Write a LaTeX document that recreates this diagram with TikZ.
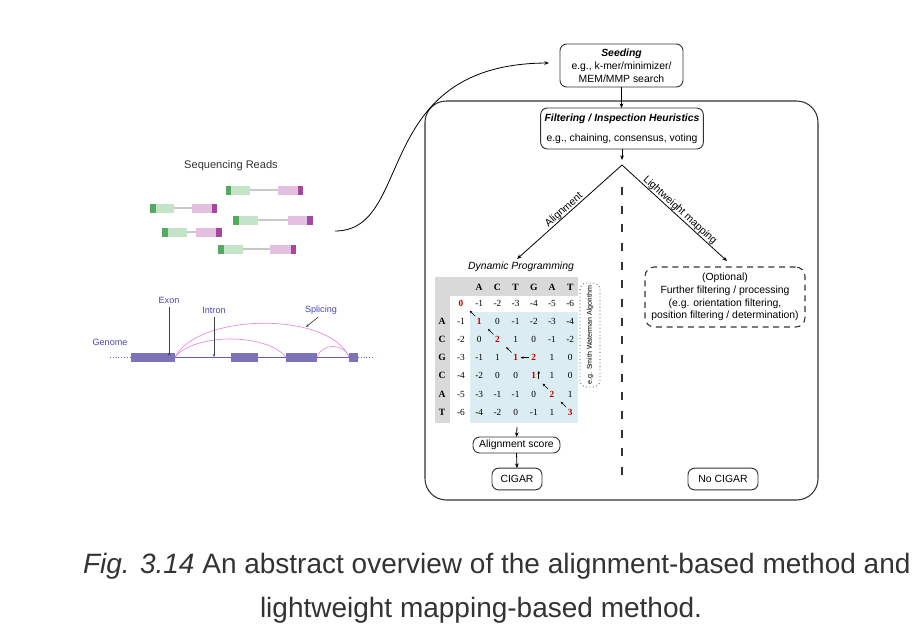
\documentclass[tikz,border=0pt]{standalone}
\usepackage{fontspec}
\setmainfont{Liberation Sans}
\newfontfamily\serifm{Liberation Serif}
\usetikzlibrary{arrows.meta,calc}
\definecolor{boxc}{HTML}{333333}
\definecolor{capc}{HTML}{333333}
\definecolor{dgreen}{HTML}{55A860}
\definecolor{lgreen}{HTML}{C4E3C8}
\definecolor{lpink}{HTML}{E3C0E0}
\definecolor{dmag}{HTML}{A5479F}
\definecolor{rgray}{HTML}{C8C8C8}
\definecolor{exonc}{HTML}{7D73B9}
\definecolor{genc}{HTML}{5B5BD6}
\definecolor{gentxt}{HTML}{4646B4}
\definecolor{arcc}{HTML}{E28AE0}
\definecolor{hdrgray}{HTML}{D9D9D9}
\definecolor{cellblue}{HTML}{DBEDF2}
\definecolor{redv}{HTML}{C00000}
\newcommand\redval[1]{\textcolor{redv}{\bfseries #1}}
\newcommand\drawread[7]{%
  \draw[rgray, line width=1pt] (#4,#1) -- (#5,#1);
  \fill[dgreen] (#2,#1-4.5) rectangle (#3,#1+4.5);
  \fill[lgreen] (#3,#1-4.5) rectangle (#4,#1+4.5);
  \fill[lpink] (#5,#1-4.5) rectangle (#6,#1+4.5);
  \fill[dmag] (#6,#1-4.5) rectangle (#7,#1+4.5);}
\begin{document}
\begin{tikzpicture}[x=0.75pt,y=-0.75pt,
  every node/.style={inner sep=0pt, outer sep=0pt},
  lbl/.style={font=\fontsize{7.8pt}{9.5pt}\selectfont, align=center},
  rbox/.style={draw=boxc, line width=0.7pt, rounded corners=5pt, fill=white, align=center, font=\fontsize{7.8pt}{9.75pt}\selectfont},
  arr/.style={-{Stealth[length=3.5pt,width=2.8pt]}, line width=0.6pt},
  tinyarr/.style={-{Stealth[length=2.2pt,width=1.8pt]}, line width=0.5pt},
  ptr/.style={-{Stealth[length=2.2pt,width=1.8pt]}, line width=0.5pt, draw=black!75},
  num/.style={font=\serifm\fontsize{7pt}{8pt}\selectfont},
  hdr/.style={font=\serifm\bfseries\fontsize{7.2pt}{8pt}\selectfont},
  gtxt/.style={font=\fontsize{6.8pt}{8pt}\selectfont, text=gentxt},
  gdots/.style={genc, line width=0.9pt, dash pattern=on 0.8pt off 1.3pt}
]
\useasboundingbox (0,0) rectangle (920,632);

% ---------- big container ----------
\draw[draw=boxc, line width=0.8pt, rounded corners=16pt] (425,101) rectangle (818,500);

% ---------- top boxes ----------
\node[rbox, minimum width=92.25pt, minimum height=32.25pt] (seed) at (621.5,65.5)
  {\textbf{\textit{Seeding}}\\e.g., k-mer/minimizer/\\MEM/MMP search};
\node[rbox, minimum width=122pt, minimum height=30.75pt, font=\fontsize{7.8pt}{15pt}\selectfont] (filt) at (622,128.5)
  {\textbf{\textit{Filtering / Inspection Heuristics}}\\e.g., chaining, consensus, voting};
\draw[arr] (seed.south) -- (seed.south |- filt.north);

\coordinate (apexin) at (622,160);
\coordinate (apex) at (622,165);
\draw[arr] (filt.south) -- (apexin);

\coordinate (dptop) at (517,259);
\coordinate (opttop) at (727,261);
\draw[arr] (apex) -- (dptop);
\draw[arr] (apex) -- (opttop);
\node[lbl, rotate=41.8] (alnlbl) at (564,210) {Alignment};
\node[lbl, rotate=-42.4] (lwlbl) at (680,210.5) {Lightweight\ mapping};

% dashed separator
\coordinate (sepA) at (622,187);
\coordinate (sepB) at (622,482);
\draw[boxc, line width=1.1pt, dash pattern=on 6pt off 8pt] (sepA) -- (sepB);

% ---------- DP matrix ----------
\node[lbl, font=\itshape\fontsize{7.8pt}{9.5pt}\selectfont] (dp) at (521,267) {Dynamic Programming};
\fill[hdrgray] (435,277) rectangle (578,296);
\fill[hdrgray] (435,277) rectangle (450,423);
\fill[cellblue] (470,312) rectangle (578,423);

\foreach \L [count=\c] in {A,C,T,G,A,T}
  \node[hdr] (h-\c) at ({461+18.2*\c},287) {\L};
\foreach \L [count=\r] in {A,C,G,C,A,T}
  \node[hdr] (rl-\r) at (442,{303+18.2*\r}) {\L};

\foreach \r/\vals in {%
  0/{\redval{0},-1,-2,-3,-4,-5,-6},
  1/{-1,\redval{1},0,-1,-2,-3,-4},
  2/{-2,0,\redval{2},1,0,-1,-2},
  3/{-3,-1,1,\redval{1},\redval{2},1,0},
  4/{-4,-2,0,0,\redval{1},1,0},
  5/{-5,-3,-1,-1,0,\redval{2},1},
  6/{-6,-4,-2,0,-1,1,\redval{3}}}{
  \foreach \v [count=\cc from 0] in \vals
    \node[num] (m-\r-\cc) at ({461+18.2*\cc},{303+18.2*\r}) {\v};
}

% traceback arrows
\foreach \i in {1,2,3,5,6}
  \draw[tinyarr] ($(m-\i-\i)+(-4,-5)$) -- ($(m-\i-\i)+(-9.5,-10.5)$);
\draw[tinyarr] ($(m-3-4)+(-5,0)$) -- ($(m-3-3)+(5,0)$);
\draw[tinyarr] ($(m-4-4)+(5,3)$) -- ($(m-4-4)+(5,-5)$);

% Smith Waterman label
\node[draw=boxc, line width=0.6pt, dotted, rounded corners=5pt, minimum width=78pt, minimum height=15pt,
      rotate=90, font=\fontsize{5.3pt}{6pt}\selectfont] (sw) at (590,335) {e.g. Smith Waterman Algorithm};

% ---------- lower boxes ----------
\coordinate (mbot) at (517,427);
\node[rbox, minimum width=65.25pt, minimum height=12pt] (score) at (516.5,445) {Alignment score};
\node[rbox, minimum width=37.5pt, minimum height=16.3pt] (cigar) at (517,479) {CIGAR};
\node[rbox, minimum width=52.5pt, minimum height=16.3pt] (nocigar) at (723,479) {No CIGAR};
\draw[arr] (mbot) -- (score.north);
\draw[arr] (score.south) -- (cigar.north);

% optional box
\node[draw=boxc, line width=0.8pt, dash pattern=on 4.5pt off 3.5pt, rounded corners=7pt,
      minimum width=120pt, minimum height=45pt, align=center, font=\fontsize{7.8pt}{9.5pt}\selectfont] (opt) at (725,297)
  {(Optional)\\Further filtering / processing\\(e.g. orientation filtering,\\position filtering / determination)};

% ---------- sequencing reads ----------
\node[font=\fontsize{8.3pt}{10pt}\selectfont, text=boxc] (sr) at (231,166) {Sequencing Reads};
\drawread{190}{226}{231}{250}{278}{298}{303}
\drawread{208}{150}{156}{174}{192}{212}{217}
\drawread{220}{233}{239}{258}{288}{307}{313}
\drawread{232}{162}{168}{187}{196}{216}{222}
\drawread{249}{218}{224}{243}{270}{291}{296}

\coordinate (rdend) at (335,231);
\coordinate (seedin) at ($(seed.west)+(-11,-2.5)$);
\draw[arr] (rdend) .. controls (415,231) and (370,64) .. (seedin);

% ---------- genome ----------
\draw[gdots] (110,357.5) -- (131,357.5);
\draw[gdots] (358,357.5) -- (373,357.5);
\draw[genc, line width=1.1pt] (131,357.5) -- (349,357.5);
\draw[arcc, line width=0.5pt] (175,357) .. controls (200,312) and (330,312) .. (349,357);
\draw[arcc, line width=0.5pt] (175,357) .. controls (195,333) and (266,333) .. (286,357);
\draw[arcc, line width=0.5pt] (317,357) .. controls (322,343) and (344,343) .. (349,357);
\fill[exonc] (131,353) rectangle (175,362);
\fill[exonc] (231,353) rectangle (258,362);
\fill[exonc] (286,353) rectangle (317,362);
\fill[exonc] (349,353) rectangle (358,362);

\node[gtxt] (genome) at (110,342) {Genome};
\node[gtxt] (exon) at (169,300) {Exon};
\node[gtxt] (intron) at (214,310) {Intron};
\node[gtxt] (splice) at (321,310) {Splicing};
\coordinate (exonpt) at (169,356);
\coordinate (intronpt) at (214,357);
\coordinate (splicept) at (306,327);
\draw[ptr] ($(exon.south)+(0,4)$) -- (exonpt);
\draw[ptr] ($(intron.south)+(0,4)$) -- (intronpt);
\draw[ptr] ($(splice.south)+(-3,3)$) -- (splicept);

% ---------- caption ----------
\node[anchor=base west, text=capc, font=\fontsize{21pt}{26pt}\selectfont] (cap1) at (83,573)
  {\textit{Fig. 3.14} An abstract overview of the alignment-based method and};
\node[anchor=base west, text=capc, font=\fontsize{21pt}{26pt}\selectfont] (cap2) at (260,617)
  {lightweight mapping-based method.};
\end{tikzpicture}
\end{document}
